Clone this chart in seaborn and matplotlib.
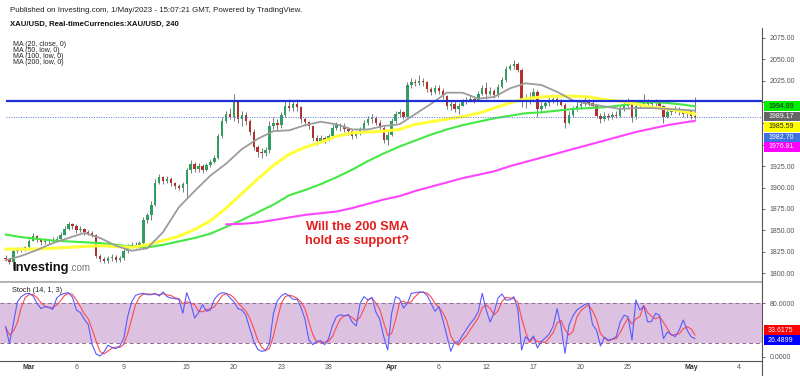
import matplotlib
matplotlib.use("Agg")
import matplotlib.pyplot as plt
from matplotlib.patches import Rectangle
from matplotlib.lines import Line2D
import numpy as np
import pandas as pd
import seaborn as sns

# XAU/USD 4h candles (4 bars per trading day, Feb 27 pm -> May 1)
bars_per_day = 4
first_bar = -6
first_open = 1818

closes = [1816, 1813, 1826, 1828, 1827, 1830,
          1838, 1843, 1839, 1836,  1838, 1837, 1839, 1840,  1845, 1852, 1857, 1855,
          1850, 1852, 1848, 1847,  1845, 1820, 1816, 1814,  1817, 1819, 1815, 1817,
          1826, 1831, 1833, 1832,  1835, 1862, 1868, 1880,  1905, 1912, 1908, 1910,
          1905, 1902, 1900, 1904,  1920, 1928, 1922, 1925,  1920, 1926, 1930, 1935,
          1960, 1978, 1986, 1983,  2000, 1980, 1985, 1978,  1965, 1948, 1942, 1940,
          1944, 1972, 1976, 1973,  1985, 1995, 1993, 1998,  1994, 1980, 1977, 1972,
          1958, 1955, 1958, 1956,  1960, 1970, 1973, 1972,  1968, 1966, 1960, 1964,
          1967, 1975, 1980, 1981,  1976, 1970, 1956, 1962,  1978, 1986, 1988, 1983,
          2020, 2024, 2022, 2025,  2023, 2015, 2012, 2017,  2013, 2007, 1995, 1998,
          1992, 1996, 2001, 2003,  2004, 2002, 2010, 2016,  2010, 2013, 2008, 2018,
          2026, 2039, 2042, 2044,  2038, 2000, 2004, 2006,  2012, 1992, 1996, 1999,
          2003, 2004, 2001, 1997,  1975, 1985, 1993, 1996,  1998, 2002, 1999, 1996,
          1984, 1980, 1984, 1982,  1985, 1984, 1993, 1996,  1999, 1982, 1995, 1998,
          2001, 1998, 2000, 1999,  1995, 1983, 1988, 1990,  1992, 1988, 1986, 1990,
          1984, 1983]
highs = [1821, 1818, 1828, 1831, 1830, 1832,
         1840, 1847, 1844, 1840,  1841, 1840, 1842, 1843,  1848, 1855, 1860, 1859,
         1857, 1855, 1853, 1850,  1849, 1846, 1822, 1819,  1820, 1822, 1821, 1820,
         1829, 1834, 1836, 1836,  1838, 1866, 1870, 1884,  1910, 1916, 1914, 1914,
         1912, 1907, 1904, 1907,  1923, 1932, 1930, 1929,  1927, 1929, 1933, 1938,
         1963, 1982, 1990, 1993,  2010, 2003, 1990, 1988,  1980, 1968, 1950, 1946,
         1948, 1978, 1982, 1980,  1988, 2002, 2004, 2003,  2004, 1996, 1983, 1978,
         1972, 1961, 1962, 1960,  1963, 1974, 1977, 1976,  1975, 1971, 1968, 1967,
         1971, 1979, 1984, 1986,  1984, 1979, 1972, 1966,  1981, 1990, 1992, 1990,
         2024, 2028, 2027, 2032,  2028, 2025, 2018, 2020,  2020, 2016, 2008, 2003,
         2002, 1999, 2004, 2006,  2008, 2007, 2013, 2020,  2024, 2018, 2015, 2021,
         2029, 2042, 2045, 2049,  2047, 2040, 2010, 2012,  2016, 2014, 2000, 2003,
         2006, 2009, 2006, 2004,  1999, 1989, 1996, 2000,  2002, 2008, 2004, 2002,
         1998, 1987, 1988, 1987,  1988, 1989, 1996, 2000,  2005, 2000, 1998, 2002,
         2010, 2004, 2003, 2004,  2001, 1997, 1992, 1993,  1996, 1994, 1991, 1992,
         1991, 2006]
lows = [1814, 1810, 1805, 1824, 1825, 1826,
        1829, 1837, 1836, 1833,  1834, 1834, 1836, 1837,  1838, 1844, 1850, 1852,
        1847, 1848, 1845, 1844,  1842, 1817, 1813, 1812,  1812, 1814, 1813, 1813,
        1815, 1824, 1829, 1829,  1829, 1833, 1858, 1862,  1878, 1904, 1904, 1905,
        1902, 1898, 1897, 1895,  1889, 1917, 1918, 1918,  1917, 1919, 1924, 1929,
        1933, 1958, 1975, 1980,  1978, 1976, 1972, 1973,  1962, 1944, 1936, 1935,
        1937, 1940, 1968, 1967,  1970, 1983, 1989, 1990,  1990, 1976, 1972, 1968,
        1955, 1950, 1953, 1952,  1954, 1958, 1967, 1966,  1965, 1962, 1957, 1958,
        1962, 1965, 1973, 1976,  1973, 1967, 1952, 1950,  1960, 1976, 1983, 1980,
        1982, 2017, 2019, 2020,  2019, 2012, 2008, 2010,  2009, 2004, 1992, 1991,
        1988, 1986, 1995, 1998,  2000, 1999, 2001, 2008,  2004, 2008, 2005, 2006,
        2016, 2024, 2037, 2039,  2035, 1994, 1993, 1998,  2003, 1983, 1990, 1993,
        1996, 1999, 1997, 1995,  1970, 1974, 1983, 1990,  1992, 1995, 1995, 1993,
        1981, 1975, 1978, 1979,  1980, 1981, 1983, 1990,  1994, 1977, 1980, 1993,
        1995, 1994, 1995, 1996,  1992, 1976, 1981, 1985,  1987, 1985, 1983, 1983,
        1980, 1980]

# moving averages, one reading per trading day plus the last bar
ma20 = [1815, 1820, 1827, 1835, 1841, 1847, 1841, 1832, 1826, 1829, 1848, 1877,
        1896, 1914, 1928, 1945, 1957, 1966, 1967, 1973, 1977, 1974, 1968, 1968,
        1972, 1974, 1986, 1998, 2011, 2011, 2004, 2006, 2016, 2022, 2020, 2012,
        2002, 1998, 1995, 1992, 1993, 1993, 1992, 1991, 1990]
ma50 = [1828, 1828, 1828, 1829, 1830, 1831, 1832, 1831, 1830, 1833, 1838, 1843,
        1851, 1861, 1876, 1893, 1910, 1926, 1939, 1947, 1953, 1960, 1964, 1965,
        1966, 1968, 1974, 1977, 1980, 1983, 1987, 1993, 1999, 2004, 2006, 2007,
        2007, 2006, 2003, 2001, 1998, 1994, 1992, 1989, 1986]
ma100 = [1845, 1842, 1840, 1838, 1837, 1836, 1835, 1833, 1831, 1830, 1833, 1837,
         1841, 1846, 1854, 1862, 1871, 1880, 1891, 1897, 1904, 1912, 1921, 1931,
         1940, 1948, 1955, 1962, 1968, 1973, 1977, 1981, 1984, 1987, 1988, 1990,
         1992, 1993, 1994, 1996, 1999, 2000, 1999, 1997, 1995]
ma200 = [None] * 14 + [
         1857, 1857.5, 1859, 1862, 1865, 1868, 1870, 1872, 1876, 1881,
         1886, 1890, 1896, 1901, 1906, 1911, 1915, 1919, 1925, 1930,
         1935, 1940, 1945, 1950, 1955, 1960, 1965, 1969, 1973, 1976, 1978]

# Stoch (14, 1, 3) %K, one value per bar
stoch_k = [45, 20, 50, 82, 90, 94,
           95, 91, 80, 72,  75, 74, 71, 88,  93, 95, 96, 89,  70, 66, 56, 48,
           18, 4, 1, 7,  17, 14, 12, 16,  27, 60, 82, 92,  94, 95, 93, 93,
           95, 91, 97, 90,  88, 87, 86, 65,  96, 80, 58, 66,  78, 68, 70, 86,
           93, 96, 95, 88,  82, 72, 70, 62,  42, 23, 11, 8,  9, 20, 65, 84,
           91, 95, 91, 86,  86, 74, 56, 25,  18, 23, 24, 18,  27, 47, 60, 63,
           61, 63, 52, 46,  80, 90, 85, 89,  67, 56, 30, 10,  65, 90, 87, 73,
           80, 95, 96, 97,  97, 92, 80, 68,  75, 55, 32, 8,  22, 22, 32, 41,
           50, 57, 68, 95,  70, 52, 66, 88,  94, 85, 85, 90,  72, 10, 30, 24,
           31, 13, 23, 28,  34, 46, 72, 45,  5, 47, 61, 70,  74, 78, 80, 48,
           40, 16, 29, 25,  26, 30, 52, 62,  60, 25, 85, 70,  76, 52, 53, 65,
           62, 27, 37, 33,  30, 40, 55, 40,  30, 27]

tick_days = [0, 3, 6, 10, 13, 16, 19, 23, 26, 29, 32, 35, 38, 42, 45]
tick_labels = ["Mar", "6", "9", "15", "20", "23", "28", "Apr", "6", "12", "17", "20", "25", "May", "4"]
price_ticks = [1800, 1825, 1850, 1875, 1900, 1925, 1950, 1975, 2000, 2025, 2050, 2075]
covered_ticks = [1950, 1975, 2000]   # hidden behind the last-value boxes

resistance = 2001
last_price = 1982.70
last_labels = ["1994.89", "1989.17", "1985.59", "1982.70", "1976.81"]
stoch_labels = ["33.6175", "26.4899"]

n = len(closes)
df = pd.DataFrame({"bar": np.arange(first_bar, first_bar + n),
                   "close": closes, "high": highs, "low": lows, "k": stoch_k})
df["open"] = [first_open] + closes[:-1]
df["d"] = df["k"].rolling(3, min_periods=1).mean()

ma_bars = list(range(first_bar, first_bar + n, bars_per_day)) + [first_bar + n - 1]
ma = pd.DataFrame({"bar": ma_bars, "ma20": ma20, "ma50": ma50, "ma100": ma100, "ma200": ma200})

sns.set_style("white")
plt.rcParams["font.family"] = ["Liberation Sans", "DejaVu Sans"]

W, H = 800, 376
fig = plt.figure(figsize=(8, 3.76), dpi=100)


def px_axes(x0, y0, x1, y1):
    return fig.add_axes([x0 / W, 1 - y1 / H, (x1 - x0) / W, (y1 - y0) / H])


ax = px_axes(0, 28, 762, 282)
sx = px_axes(0, 283, 762, 361)
xlim = (-7.4, 186)

# ---- price panel
up = df["close"] >= df["open"]
body = df["close"] - df["open"]
body = body.where(body.abs() > 0.8, 0.8)
ax.vlines(df["bar"], df["low"], df["high"], color="#666666", lw=0.6, zorder=2)
ax.bar(df["bar"], body, bottom=df["open"], width=0.62,
       color=np.where(up, "#2f9e5f", "#b3312c"), linewidth=0, zorder=2)

ax.hlines(resistance, first_bar, xlim[1], color="#1f2fd6", lw=1.6, zorder=4)
ax.hlines(last_price, first_bar, xlim[1], color="#5577dd", lw=0.7,
          linestyles=(0, (1, 1.5)), zorder=4)

for col, c, lw in [("ma100", "#44e844", 1.5), ("ma50", "#ffff3a", 2.2),
                   ("ma20", "#9c9c9c", 1.3), ("ma200", "#ff44ff", 1.5)]:
    d = ma[["bar", col]].dropna()
    sns.lineplot(x=d["bar"], y=d[col], ax=ax, color=c, linewidth=lw,
                 sort=False, estimator=None, legend=False, zorder=3)

ax.set_xlim(*xlim)
ax.set_ylim(1789.5, 2086.7)
ax.set_xticks([])
ax.set_xlabel("")
ax.set_ylabel("")
ax.yaxis.tick_right()
ax.set_yticks(price_ticks)
ax.set_yticklabels(["" if p in covered_ticks else f"{p:.2f}" for p in price_ticks])
ax.tick_params(axis="y", direction="out", length=2.5, width=0.6, color="#555555",
               labelsize=5, labelcolor="#555555", pad=3, right=True, left=False)
for s in ["top", "left", "right"]:
    ax.spines[s].set_visible(False)
ax.spines["bottom"].set_color("#b4b4b4")
ax.spines["bottom"].set_linewidth(1.5)

# ---- stochastic panel
sx.axhspan(20, 80, color="#ddc1e0", lw=0, zorder=1)
for lvl in (20, 80):
    sx.axhline(lvl, color="#8c6d8c", lw=0.7, ls=(0, (4, 3)), zorder=2)
sns.lineplot(x=df["bar"], y=df["d"], ax=sx, color="#ff4a4a", linewidth=0.8,
             sort=False, estimator=None, legend=False, zorder=3)
sns.lineplot(x=df["bar"], y=df["k"], ax=sx, color="#5a5aff", linewidth=0.8,
             sort=False, estimator=None, legend=False, zorder=4)
sx.set_xlim(*xlim)
sx.set_ylim(-6.5, 110.5)
sx.set_xlabel("")
sx.set_ylabel("")
sx.yaxis.tick_right()
sx.set_yticks([0, 80])
sx.set_yticklabels(["0.0000", "80.0000"])
sx.tick_params(axis="y", direction="out", length=2.5, width=0.6, color="#555555",
               labelsize=5, labelcolor="#555555", pad=3, right=True, left=False)
sx.set_xticks([d * bars_per_day for d in tick_days])
sx.set_xticklabels(tick_labels)
sx.tick_params(axis="x", length=0, pad=2.5, labelsize=5, labelcolor="#555555")
for lab in sx.get_xticklabels():
    if lab.get_text() in ("Mar", "Apr", "May"):
        lab.set_fontweight("bold")
        lab.set_color("#333333")
for s in ["top", "left", "right"]:
    sx.spines[s].set_visible(False)
sx.spines["bottom"].set_color("#555555")
sx.spines["bottom"].set_linewidth(0.8)

# right price axis line across both panels
fig.add_artist(Line2D([762 / W, 762 / W], [1 - 28 / H, 0], transform=fig.transFigure,
                     color="#555555", lw=0.8))

# last-value boxes
box_colors = ["#00ee00", "#666666", "#ffff00", "#3d72e0", "#ff00ff"]
box_text = ["#222222", "white", "#222222", "white", "white"]
for lab, yc, bc, tc in zip(last_labels, [106, 116.5, 127, 137.5, 147], box_colors, box_text):
    fig.add_artist(Rectangle((764 / W, 1 - (yc + 4.8) / H), 36 / W, 9.6 / H,
                             transform=fig.transFigure, color=bc, lw=0))
    fig.text(768 / W, 1 - yc / H, lab, ha="left", va="center", fontsize=5, color=tc)
for lab, yc, bc in zip(stoch_labels, [330, 340], ["#ff0000", "#0000ff"]):
    fig.add_artist(Rectangle((764 / W, 1 - (yc + 4.8) / H), 36 / W, 9.6 / H,
                             transform=fig.transFigure, color=bc, lw=0))
    fig.text(768 / W, 1 - yc / H, lab, ha="left", va="center", fontsize=5, color="white")

# header / legend texts
fig.text(10 / W, 1 - 10 / H, "Published on Investing.com, 1/May/2023 - 15:07:21 GMT, Powered by TradingView.",
         fontsize=5.7, color="#222222", va="center")
fig.text(10 / W, 1 - 24 / H, "XAU/USD, Real-timeCurrencies:XAU/USD, 240",
         fontsize=5.6, fontweight="bold", color="#111111", va="center")
for i, t in enumerate(["MA (20, close, 0)", "MA (50, low, 0)", "MA (100, low, 0)", "MA (200, low, 0)"]):
    fig.text(13 / W, 1 - (44 + 6 * i) / H, t, fontsize=5, color="#222222", va="center")
fig.text(12 / W, 1 - 291 / H, "Stoch (14, 1, 3)", fontsize=5.3, color="#222222", va="center")

fig.text(12 / W, 1 - 271 / H, "Investing", fontsize=9.3, fontweight="bold", color="#111111", va="baseline")
fig.text(69 / W, 1 - 271 / H, ".com", fontsize=7, color="#777777", va="baseline")

fig.text(357 / W, 1 - 234 / H, "Will the 200 SMA\nhold as support?", fontsize=9.3,
         fontweight="bold", color="#e51d1d", ha="center", va="center", linespacing=1.25)

plt.savefig("out.png", dpi=100)
